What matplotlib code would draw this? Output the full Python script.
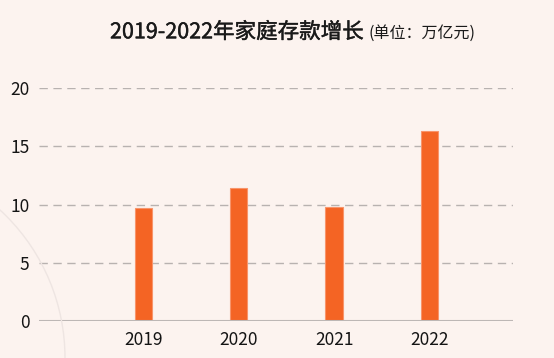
import matplotlib
matplotlib.use("Agg")
import matplotlib.pyplot as plt
import matplotlib.patheffects as pe
from matplotlib.patches import Ellipse

plt.rcParams['font.family'] = ['Noto Sans CJK SC', 'DejaVu Sans']

years = ['2019', '2020', '2021', '2022']
values = [9.7, 11.4, 9.8, 16.3]
yticks = [0, 5, 10, 15, 20]

W, H = 554, 358
bg = '#FCF3EF'
fig = plt.figure(figsize=(W / 100, H / 100), dpi=100, facecolor=bg)

# faint decorative arc
arc = Ellipse((-136 / W, 0), 402 / W, 402 / H, transform=fig.transFigure,
              fill=False, edgecolor='#EEE5E2', linewidth=1.0, zorder=0)
fig.patches.append(arc)

ax = fig.add_axes([0.0704, 0.1034, 0.8556, 0.6506])
ax.set_facecolor('none')
x = list(range(len(years)))
ax.bar(x, values, width=0.18, color='#F46424', edgecolor='#F8946A',
       linewidth=0.8, zorder=3)
ax.set_xlim(-1.1, 3.88)
ax.set_ylim(0, 20)
ax.set_yticks(yticks)
ax.set_yticklabels([str(t) for t in yticks])
ax.set_xticks(x)
ax.set_xticklabels(years)
for t in yticks[1:]:
    ax.axhline(t, color='#B8B2B0', linewidth=1.0, dashes=(6, 4), zorder=1)
ax.axhline(0, color='#BDB7B5', linewidth=1.5, zorder=4)
for s in ax.spines.values():
    s.set_visible(False)
ax.tick_params(axis='both', length=0, labelsize=12.5, colors='#141414')
ax.tick_params(axis='y', pad=7)
ax.tick_params(axis='x', pad=7)

fig.text(110 / W, 0.893, '2019-2022年家庭存款增长', fontsize=15.5,
         color='#1A1A1A', ha='left', va='baseline',
         path_effects=[pe.withStroke(linewidth=0.3, foreground='#1A1A1A')])
fig.text(368 / W, 0.893, '(单位：万亿元)', fontsize=11.5,
         color='#1A1A1A', ha='left', va='baseline')

fig.savefig('out.png', dpi=100, facecolor=bg)
